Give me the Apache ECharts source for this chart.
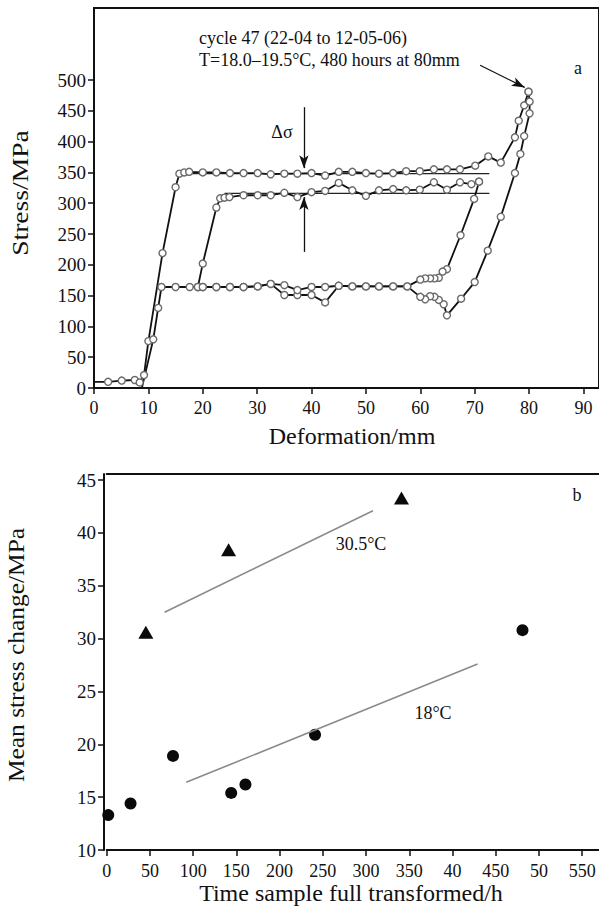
<!DOCTYPE html>
<html><head><meta charset="utf-8">
<script src="https://cdn.jsdelivr.net/npm/echarts@6/dist/echarts.min.js"></script>
<style>html,body{margin:0;padding:0;background:#fff}#c{width:599px;height:909px}</style>
</head><body><div id="c"></div>
<script>
const FONT = 'Liberation Serif, serif';

// ---------- Panel a : stress vs deformation ----------
const aYTicks = [0, 50, 100, 150, 200, 250, 300, 350, 400, 450, 500];
const outerLoading = [[0,10],[2.6,10],[5.1,12],[7.5,13],[8.4,9],[9.2,21],[10.0,76],[12.6,219],[15.0,326],[15.7,348],[16.6,350],[17.5,351],[20.0,350],[22.5,350],[25.0,349],[27.5,349],[30.1,349],[32.5,347],[35.0,348],[37.4,348],[40.0,349],[42.5,345],[45.0,351],[47.5,351],[50.0,349],[52.4,348],[55.0,349],[57.4,352],[59.9,352],[62.5,355],[64.9,355],[67.3,355],[70.1,361],[72.5,376],[74.8,366],[77.4,407],[78.1,434],[79.1,459],[79.9,481]];
const outerUnloading = [[79.9,481],[80.1,465],[80.1,446],[79.1,409],[78.4,380],[77.4,349],[74.8,278],[72.4,223],[70.0,172],[67.5,145],[64.9,118],[64.3,136],[63.4,143],[62.6,148],[61.8,149],[60.9,144],[60.0,148],[57.6,165],[55.0,165],[52.4,165],[50.0,165],[47.5,165],[45.0,166],[42.5,139],[40.0,151],[37.4,151],[35.0,151],[32.5,169],[30.1,165],[27.5,164],[25.0,164],[22.5,164],[20.0,164],[19.1,164]];
const innerLoading = [[19.1,164],[20.0,202],[22.5,293],[23.2,308],[24.0,309],[24.9,310],[27.5,313],[30.1,313],[32.5,313],[35.0,317],[37.4,310],[40.0,318],[42.5,320],[45.0,333],[47.5,321],[50.0,312],[52.4,321],[55.0,323],[57.4,321],[59.9,322],[62.5,334],[64.9,322],[67.3,334],[69.4,331],[70.8,335]];
const innerUnloading = [[70.8,335],[69.9,307],[67.4,248],[64.9,193],[64.1,189],[63.4,179],[62.6,178],[61.8,178],[60.9,178],[60.0,176],[57.6,165],[55.0,165],[52.4,165],[50.0,165],[47.5,165],[45.0,166],[42.5,164],[40.0,164],[37.4,159],[35.0,167],[32.5,169],[30.1,165],[27.5,164],[25.0,164],[22.5,164],[20.0,164],[17.6,164],[15.0,164],[12.4,164],[11.8,130],[10.9,79],[8.8,0]];
const upperRefLine = [[17, 348], [72.7, 348]];
const lowerRefLine = [[24, 316], [72.7, 316]];
const deltaArrowDown = [[38.6, 456], [38.6, 357]];
const deltaArrowUp = [[38.6, 221], [38.6, 310]];
const cycleArrow = [[71, 524], [79.2, 488]];

// ---------- Panel b : mean stress change vs time ----------
const bXTicks = [0, 50, 100, 150, 200, 250, 300, 350, 400, 450, 500, 550];
const bXLabels = ['0', '50', '100', '150', '200', '250', '300', '350', '40', '450', '50', '550'];
const circles18 = [[1.8,13.3],[27.6,14.4],[76.7,18.9],[144,15.4],[160.5,16.2],[241,20.9],[481,30.8]];
const triangles305 = [[45.3,30.6],[141,38.4],[341,43.3]];
const fit305 = [[67, 32.5], [308, 42.1]];
const fit18 = [[92, 16.4], [429, 27.6]];

const chart = echarts.init(document.getElementById('c'), null, {renderer: 'svg'});

const loopStyle = {
  type: 'line', xAxisIndex: 0, yAxisIndex: 0,
  symbol: 'circle', symbolSize: 7,
  lineStyle: {color: '#111', width: 1.8},
  itemStyle: {color: '#fff', borderColor: '#6a6a6a', borderWidth: 1.4},
  z: 3
};
function loop(arr, hideFirst, hideLast) {
  return arr.map((p, i) => {
    if ((hideFirst && i === 0) || (hideLast && i === arr.length - 1)) return {value: p, symbol: 'none'};
    return p;
  });
}
function arrowLine(pts) {
  return [{coord: pts[0]}, {coord: pts[1]}];
}
const tickStyle = {show: true, inside: false, length: 6, lineStyle: {color: '#111', width: 1.5}};
const lineAx = {show: true, onZero: false, lineStyle: {color: '#111', width: 2}};
function lbl(size, margin, fmt) {
  return {
    show: true, margin: margin, showMaxLabel: false,
    fontFamily: FONT, fontSize: size, color: '#111',
    formatter: v => { const s = fmt(v); return s === '' ? '' : '{t|' + s + '}'; },
    rich: {t: {fontFamily: FONT, fontSize: size, color: '#111'}}
  };
}

chart.setOption({
  animation: false,
  textStyle: {fontFamily: FONT},
  grid: [
    {left: 94, top: 8, width: 507, height: 380, show: true, borderColor: '#111', borderWidth: 2, backgroundColor: 'transparent'},
    {left: 106.7, top: 474, width: 494.3, height: 376, show: false}
  ],
  xAxis: [
    {type: 'value', gridIndex: 0, min: 0, max: 92.86, interval: 10,
      axisLine: lineAx, axisTick: tickStyle,
      axisLabel: lbl(18, 11, v => String(v)),
      splitLine: {show: false}},
    {type: 'value', gridIndex: 1, min: 0, max: 569.5, interval: 50,
      axisLine: lineAx, axisTick: tickStyle,
      axisLabel: lbl(18, 12, v => { const i = bXTicks.indexOf(v); return i >= 0 ? bXLabels[i] : ''; }),
      splitLine: {show: false}},
    {type: 'value', gridIndex: 1, position: 'top', min: 0, max: 569.5,
      axisLine: {show: true, onZero: false, lineStyle: {color: '#111', width: 2}},
      axisTick: {show: false}, axisLabel: {show: false}, splitLine: {show: false}}
  ],
  yAxis: [
    {type: 'value', gridIndex: 0, min: 0, max: 617, interval: 50,
      axisLine: lineAx,
      axisTick: Object.assign({}, tickStyle, {customValues: aYTicks}),
      axisLabel: lbl(19, 8, v => (aYTicks.indexOf(v) >= 0 ? String(v) : '')),
      splitLine: {show: false}},
    {type: 'value', gridIndex: 1, min: 10, max: 45.57, interval: 5, offset: 2.7,
      axisLine: lineAx, axisTick: tickStyle,
      axisLabel: lbl(19, 8, v => (v <= 45 ? String(v) : '')),
      splitLine: {show: false}}
  ],
  series: [
    {type: 'line', xAxisIndex: 0, yAxisIndex: 0, data: upperRefLine, symbol: 'none', lineStyle: {color: '#222', width: 1.2}, z: 2,
      markLine: {silent: true, symbol: ['none', 'arrow'], symbolSize: [7, 13], label: {show: false},
        lineStyle: {color: '#111', width: 1.3, type: 'solid'},
        data: [arrowLine(deltaArrowDown), arrowLine(deltaArrowUp), arrowLine(cycleArrow)]}},
    {type: 'line', xAxisIndex: 0, yAxisIndex: 0, data: lowerRefLine, symbol: 'none', lineStyle: {color: '#222', width: 1.2}, z: 2},
    Object.assign({}, loopStyle, {data: loop(outerLoading, true, false)}),
    Object.assign({}, loopStyle, {data: loop(outerUnloading, false, false)}),
    Object.assign({}, loopStyle, {data: loop(innerLoading, false, false)}),
    Object.assign({}, loopStyle, {data: loop(innerUnloading, false, true)}),
    {type: 'line', xAxisIndex: 1, yAxisIndex: 1, data: fit305, symbol: 'none', lineStyle: {color: '#8a8a8a', width: 1.6}},
    {type: 'line', xAxisIndex: 1, yAxisIndex: 1, data: fit18, symbol: 'none', lineStyle: {color: '#8a8a8a', width: 1.6}},
    {type: 'scatter', xAxisIndex: 1, yAxisIndex: 1, data: circles18, symbol: 'circle', symbolSize: 12, itemStyle: {color: '#0a0a0a', opacity: 1}},
    {type: 'scatter', xAxisIndex: 1, yAxisIndex: 1, data: triangles305, symbol: 'triangle', symbolSize: [15, 13], itemStyle: {color: '#0a0a0a', opacity: 1}}
  ],
  graphic: [
    {type: 'text', x: 20, y: 193, rotation: Math.PI / 2, scaleX: 1.15, style: {text: 'Stress/MPa', font: '24px Liberation Serif', fill: '#111', align: 'center', verticalAlign: 'middle'}},
    {type: 'text', x: 352, y: 436, style: {text: 'Deformation/mm', font: '24px Liberation Serif', fill: '#111', align: 'center', verticalAlign: 'middle'}},
    {type: 'text', x: 199, y: 38, style: {text: 'cycle 47 (22-04 to 12-05-06)', font: '18px Liberation Serif', fill: '#111', align: 'left', verticalAlign: 'middle'}},
    {type: 'text', x: 199, y: 60, style: {text: 'T=18.0\u201319.5\u00b0C, 480 hours at 80mm', font: '18px Liberation Serif', fill: '#111', align: 'left', verticalAlign: 'middle'}},
    {type: 'text', x: 578, y: 68, style: {text: 'a', font: '18px Liberation Serif', fill: '#111', align: 'center', verticalAlign: 'middle'}},
    {type: 'text', x: 282, y: 132, style: {text: '\u0394\u03c3', font: '18px Liberation Serif', fill: '#111', align: 'center', verticalAlign: 'middle'}},
    {type: 'text', x: 16, y: 655, rotation: Math.PI / 2, scaleX: 1.06, style: {text: 'Mean stress change/MPa', font: '24px Liberation Serif', fill: '#111', align: 'center', verticalAlign: 'middle'}},
    {type: 'text', x: 351, y: 893, style: {text: 'Time sample full transformed/h', font: '24px Liberation Serif', fill: '#111', align: 'center', verticalAlign: 'middle'}},
    {type: 'text', x: 577, y: 495, style: {text: 'b', font: '18px Liberation Serif', fill: '#111', align: 'center', verticalAlign: 'middle'}},
    {type: 'text', x: 361, y: 544, style: {text: '30.5\u00b0C', font: '18px Liberation Serif', fill: '#111', align: 'center', verticalAlign: 'middle'}},
    {type: 'text', x: 433, y: 713, style: {text: '18\u00b0C', font: '18px Liberation Serif', fill: '#111', align: 'center', verticalAlign: 'middle'}}
  ]
});
</script>
</body></html>
